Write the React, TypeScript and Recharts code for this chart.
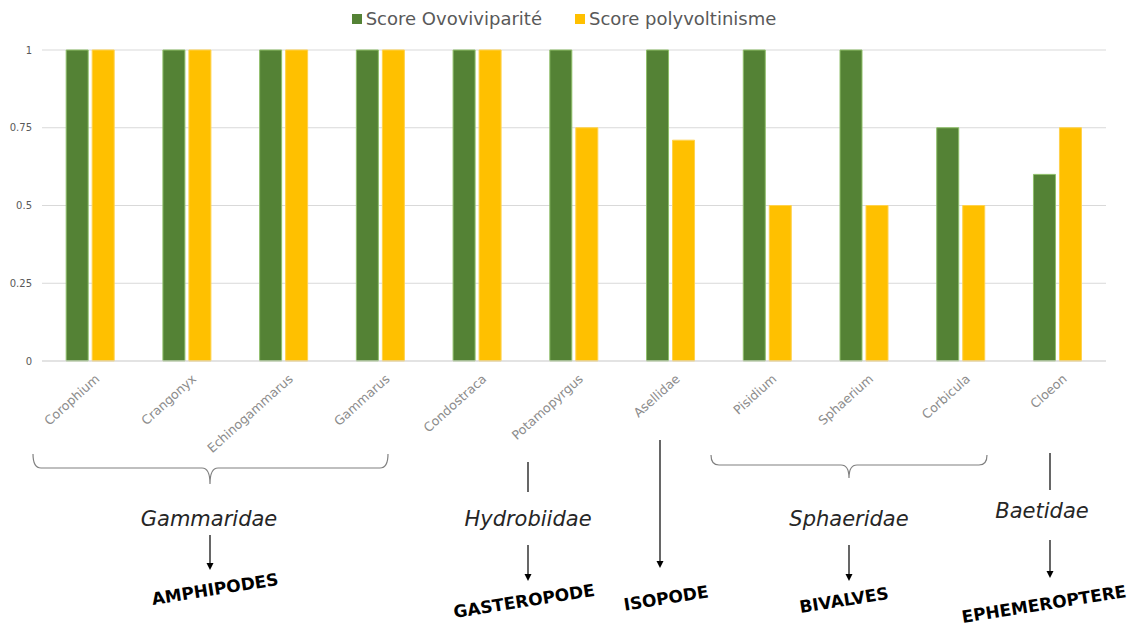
import React from "react";
import { BarChart, Bar, XAxis, YAxis, CartesianGrid, Legend } from "recharts";

const categories = [
  "Corophium",
  "Crangonyx",
  "Echinogammarus",
  "Gammarus",
  "Condostraca",
  "Potamopyrgus",
  "Asellidae",
  "Pisidium",
  "Sphaerium",
  "Corbicula",
  "Cloeon",
];
const scoreOvoviviparite = [1, 1, 1, 1, 1, 1, 1, 1, 1, 0.75, 0.6];
const scorePolyvoltinisme = [1, 1, 1, 1, 1, 0.75, 0.71, 0.5, 0.5, 0.5, 0.75];
const yTicks = [0, 0.25, 0.5, 0.75, 1];
const seriesNames = ["Score Ovoviviparité", "Score polyvoltinisme"];

const data = categories.map((c, i) => ({
  name: c,
  ovo: scoreOvoviviparite[i],
  poly: scorePolyvoltinisme[i],
}));

const W = 1129;
const H = 630;
const FONT = "'DejaVu Sans', 'Liberation Sans', sans-serif";
const GREEN = "#548235";
const YELLOW = "#FFC000";

const XTick = (props: any) => {
  const { x, y, payload } = props;
  return (
    <g transform={`translate(${x + 10},${y + 11})`}>
      <text
        x={0}
        y={0}
        textAnchor="end"
        transform="rotate(-42)"
        fill="#8c8c8c"
        fontSize={12.6}
        fontFamily={FONT}
      >
        {payload.value}
      </text>
    </g>
  );
};

const LegendContent = (props: any) => {
  const payload = props.payload || [];
  return (
    <div
      style={{
        display: "flex",
        justifyContent: "center",
        gap: 33,
        fontFamily: FONT,
        fontSize: 18,
        lineHeight: "20px",
        color: "#595959",
        paddingLeft: 22,
      }}
    >
      {payload.map((p: any) => (
        <div key={p.value} style={{ display: "flex", alignItems: "center" }}>
          <span
            style={{
              display: "inline-block",
              width: 10,
              height: 10,
              background: p.color,
              marginRight: 4,
            }}
          />
          <span>{p.value}</span>
        </div>
      ))}
    </div>
  );
};

const Arrow = ({ x, y1, y2 }: { x: number; y1: number; y2: number }) => (
  <g>
    <line x1={x} y1={y1} x2={x} y2={y2 - 6} stroke="#000" strokeWidth={1.2} />
    <polygon points={`${x - 3.5},${y2 - 7} ${x + 3.5},${y2 - 7} ${x},${y2}`} fill="#000" />
  </g>
);

const Brace = ({ x1, x2, xm, y0, y1, y2 }: any) => {
  const r = 8;
  const d = `M ${x1} ${y0} Q ${x1} ${y1} ${x1 + r} ${y1} L ${xm - r} ${y1} Q ${xm} ${y1} ${xm} ${y2} Q ${xm} ${y1} ${xm + r} ${y1} L ${x2 - r} ${y1} Q ${x2} ${y1} ${x2} ${y0}`;
  return <path d={d} fill="none" stroke="#808080" strokeWidth={1.2} />;
};

const Family = ({ x, y, text }: any) => (
  <text
    x={x}
    y={y}
    textAnchor="middle"
    fontFamily={FONT}
    fontStyle="italic"
    fontSize={21}
    fill="#262626"
  >
    {text}
  </text>
);

const Order = ({ x, y, text }: any) => (
  <text
    x={x}
    y={y}
    textAnchor="middle"
    dominantBaseline="central"
    fontFamily={FONT}
    fontWeight="bold"
    fontSize={17}
    fill="#000"
    transform={`rotate(-9 ${x} ${y})`}
  >
    {text}
  </text>
);

export default function App() {
  return (
    <div style={{ position: "absolute", left: 0, top: 0, width: W, height: H, background: "#fff" }}>
      <BarChart
        width={W}
        height={H}
        data={data}
        margin={{ top: 30, right: 23, left: 0, bottom: 0 }}
        barCategoryGap="25%"
        barGap={4}
      >
        <CartesianGrid vertical={false} stroke="#d9d9d9" strokeWidth={1.2} />
        <XAxis
          dataKey="name"
          height={269}
          interval={0}
          tickLine={false}
          axisLine={{ stroke: "#d9d9d9", strokeWidth: 1.2 }}
          tick={<XTick />}
        />
        <YAxis
          width={42}
          domain={[0, 1]}
          ticks={yTicks}
          tickLine={false}
          axisLine={false}
          tickMargin={4}
          tick={{ fill: "#595959", fontSize: 10, fontFamily: FONT }}
        />
        <Legend verticalAlign="top" wrapperStyle={{ top: 9 }} content={<LegendContent />} />
        <Bar
          dataKey="ovo"
          name={seriesNames[0]}
          fill={GREEN}
          stroke="#8fbf6a"
          strokeWidth={1}
          isAnimationActive={false}
        />
        <Bar
          dataKey="poly"
          name={seriesNames[1]}
          fill={YELLOW}
          stroke="#ffd24d"
          strokeWidth={1}
          isAnimationActive={false}
        />
      </BarChart>
      <svg
        width={W}
        height={H}
        style={{ position: "absolute", left: 0, top: 0, pointerEvents: "none" }}
      >
        {/* Gammaridae */}
        <Brace x1={33} x2={388} xm={210} y0={454} y1={468} y2={484} />
        <Family x={209} y={526} text="Gammaridae" />
        <Arrow x={210} y1={535} y2={570} />
        <Order x={215} y={589} text="AMPHIPODES" />
        {/* Hydrobiidae */}
        <line x1={528} y1={462} x2={528} y2={492} stroke="#000" strokeWidth={1.2} />
        <Family x={528} y={526} text="Hydrobiidae" />
        <Arrow x={528} y1={545} y2={581} />
        <Order x={524} y={601} text="GASTEROPODE" />
        {/* Asellidae */}
        <Arrow x={660} y1={440} y2={568} />
        <Order x={666} y={598} text="ISOPODE" />
        {/* Sphaeridae */}
        <Brace x1={711} x2={987} xm={849} y0={455} y1={465} y2={478} />
        <Family x={849} y={526} text="Sphaeridae" />
        <Arrow x={849} y1={545} y2={581} />
        <Order x={844} y={600} text="BIVALVES" />
        {/* Baetidae */}
        <line x1={1050} y1={453} x2={1050} y2={490} stroke="#000" strokeWidth={1.2} />
        <Family x={1042} y={518} text="Baetidae" />
        <Arrow x={1050} y1={540} y2={578} />
        <Order x={1044} y={604} text="EPHEMEROPTERE" />
      </svg>
    </div>
  );
}
